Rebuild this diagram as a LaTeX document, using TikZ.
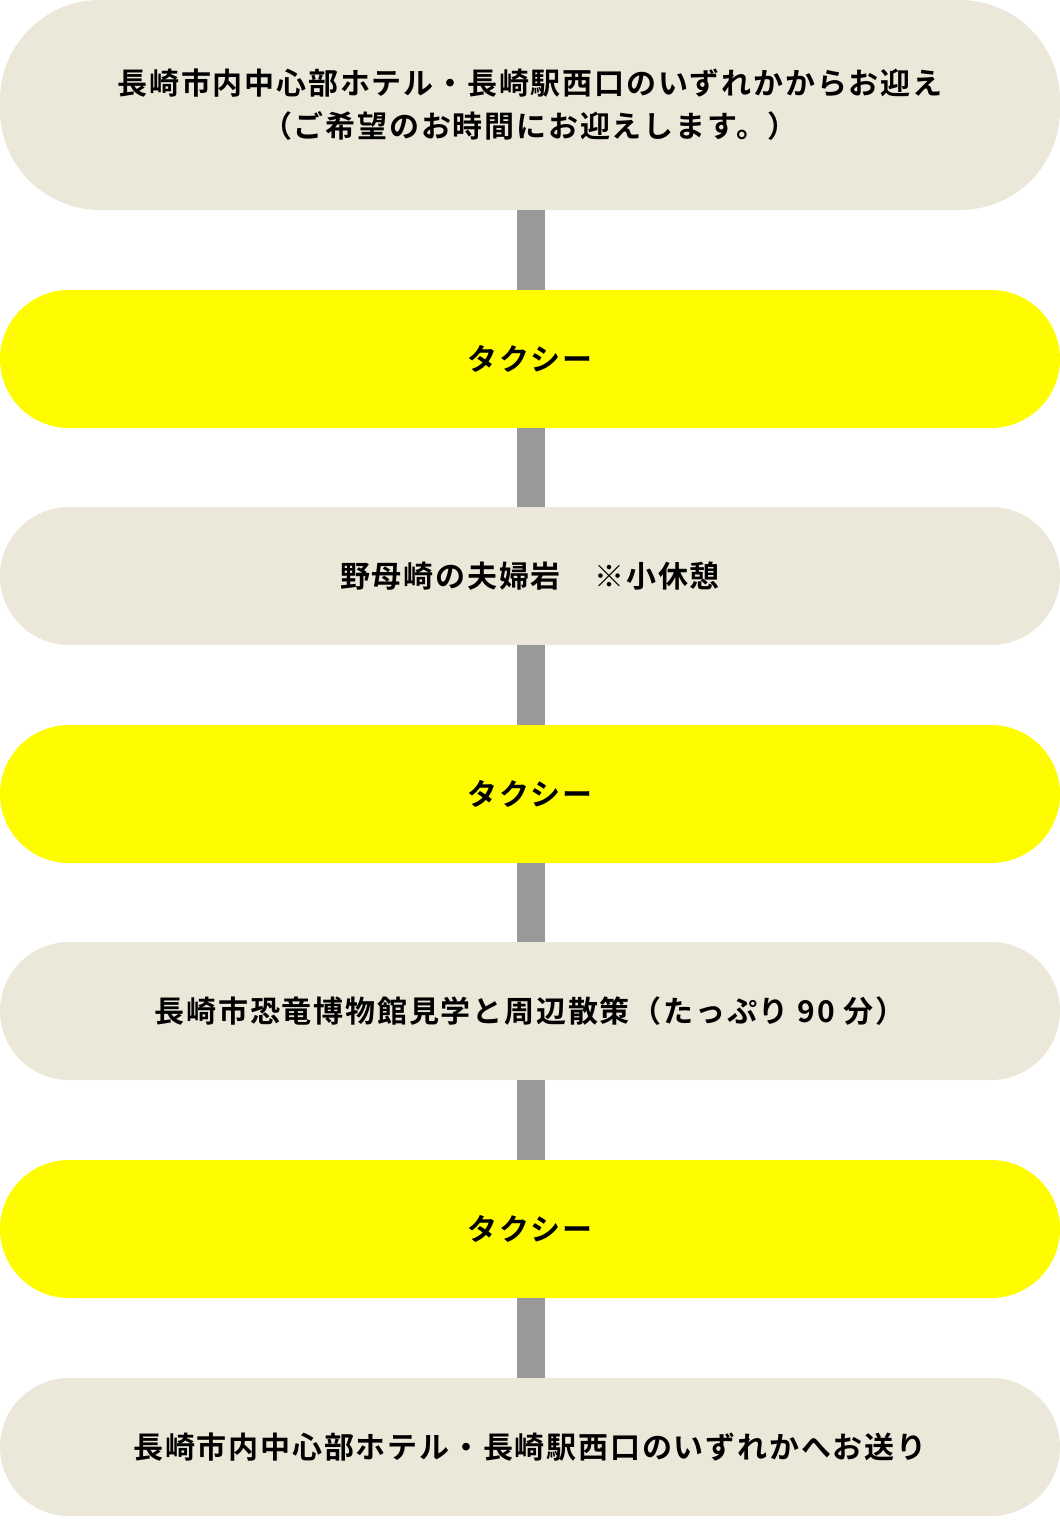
\documentclass[tikz,border=0pt]{standalone}
\usepackage{fontspec}
\newfontfamily\jp{Noto Sans CJK JP}[BoldFont={Noto Sans CJK JP Bold}, LetterSpace=6]
\definecolor{beige}{HTML}{ECE8D9}
\definecolor{yel}{HTML}{FFFC00}
\definecolor{conn}{HTML}{999999}
\begin{document}
\begin{tikzpicture}[x=1pt,y=-1pt,
  stage/.style={rectangle, fill=beige, minimum width=1060pt, minimum height=138pt, inner sep=0pt, rounded corners=69pt, align=center, font=\jp\bfseries\fontsize{30}{43}\selectfont, text=black},
  move/.style={stage, fill=yel},
  link/.style={draw=conn, line width=28pt}]
\useasboundingbox (0,0) rectangle (1060,1526);
\node[stage, minimum height=210pt, rounded corners=100pt] (s1) at (530,105) {長崎市内中心部ホテル・長崎駅西口のいずれかからお迎え\\（ご希望のお時間にお迎えします。）};
\node[move] (t1) at (530,359) {タクシー};
\node[stage] (s2) at (530,576) {野母崎の夫婦岩　※小休憩};
\node[move] (t2) at (530,794) {タクシー};
\node[stage] (s3) at (530,1011) {長崎市恐竜博物館見学と周辺散策（たっぷり 90 分）};
\node[move] (t3) at (530,1229) {タクシー};
\node[stage] (s4) at (530,1447) {長崎市内中心部ホテル・長崎駅西口のいずれかへお送り};
\draw[link] ([xshift=1pt]s1.south) -- ([xshift=1pt]t1.north);
\draw[link] ([xshift=1pt]t1.south) -- ([xshift=1pt]s2.north);
\draw[link] ([xshift=1pt]s2.south) -- ([xshift=1pt]t2.north);
\draw[link] ([xshift=1pt]t2.south) -- ([xshift=1pt]s3.north);
\draw[link] ([xshift=1pt]s3.south) -- ([xshift=1pt]t3.north);
\draw[link] ([xshift=1pt]t3.south) -- ([xshift=1pt]s4.north);
\end{tikzpicture}
\end{document}
